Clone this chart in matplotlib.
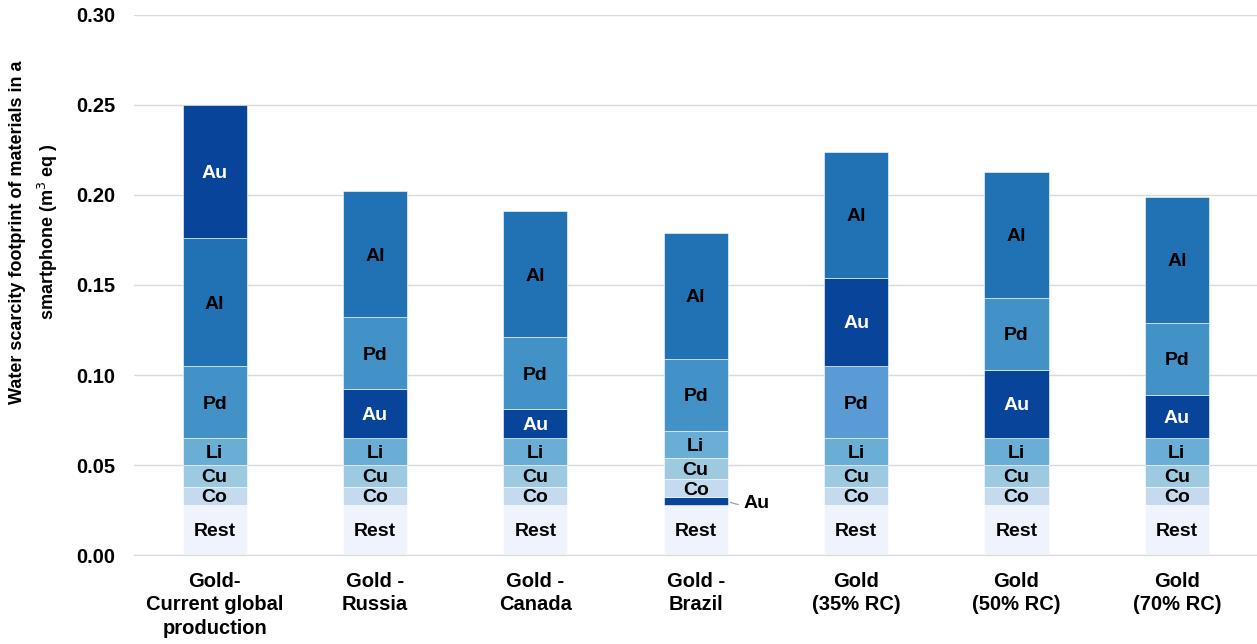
import matplotlib.pyplot as plt

plt.rcParams['font.family'] = ['Liberation Sans', 'DejaVu Sans']

# scenarios on the x axis
categories = ['Gold-\nCurrent global\nproduction', 'Gold -\nRussia', 'Gold -\nCanada',
              'Gold -\nBrazil', 'Gold\n(35% RC)', 'Gold\n(50% RC)', 'Gold\n(70% RC)']

# material contributions (m3 eq)
rest = [0.028, 0.028, 0.028, 0.028, 0.028, 0.028, 0.028]
co = [0.010, 0.010, 0.010, 0.010, 0.010, 0.010, 0.010]
cu = [0.012, 0.012, 0.012, 0.012, 0.012, 0.012, 0.012]
li = [0.015, 0.015, 0.015, 0.015, 0.015, 0.015, 0.015]
pd = [0.040, 0.040, 0.040, 0.040, 0.040, 0.040, 0.040]
al = [0.071, 0.070, 0.070, 0.070, 0.070, 0.070, 0.070]
au = [0.074, 0.027, 0.016, 0.004, 0.049, 0.038, 0.024]

# stacking order, bottom to top, for each bar
orders = [
    ['Rest', 'Co', 'Cu', 'Li', 'Pd', 'Al', 'Au'],
    ['Rest', 'Co', 'Cu', 'Li', 'Au', 'Pd', 'Al'],
    ['Rest', 'Co', 'Cu', 'Li', 'Au', 'Pd', 'Al'],
    ['Rest', 'Au', 'Co', 'Cu', 'Li', 'Pd', 'Al'],
    ['Rest', 'Co', 'Cu', 'Li', 'Pd', 'Au', 'Al'],
    ['Rest', 'Co', 'Cu', 'Li', 'Au', 'Pd', 'Al'],
    ['Rest', 'Co', 'Cu', 'Li', 'Au', 'Pd', 'Al'],
]

values = {'Rest': rest, 'Co': co, 'Cu': cu, 'Li': li, 'Pd': pd, 'Al': al, 'Au': au}
colors = {'Rest': '#eef3fc', 'Co': '#c5daef', 'Cu': '#9dcae0', 'Li': '#6aaed6',
          'Pd': '#4292c8', 'Al': '#2171b5', 'Au': '#08449a'}

fig = plt.figure(figsize=(12.57, 6.44), dpi=100)
ax = fig.add_axes([0.107, 0.138, 0.893, 0.839])

width = 0.4
for i, order in enumerate(orders):
    bottom = 0
    for name in order:
        v = values[name][i]
        c = colors[name]
        if name == 'Pd' and i == 4:
            c = '#5b9bd5'
        ax.bar(i, v, width, bottom=bottom, color=c, edgecolor='white', linewidth=0.4, zorder=3)
        mid = bottom + v / 2
        tc = 'white' if name == 'Au' else 'black'
        if v < 0.006:
            # too thin for an inner label
            ax.annotate(name, xy=(i + width / 2, mid), xytext=(i + width / 2 + 0.1, mid),
                        fontsize=14, fontweight='bold', va='center_baseline', ha='left',
                        arrowprops=dict(arrowstyle='-', color='#999999', lw=0.8,
                                        connectionstyle='arc3,rad=-0.2'))
        else:
            ax.text(i, mid, name, ha='center', va='center_baseline', fontsize=14,
                    fontweight='bold', color=tc, zorder=4)
        bottom += v

ax.set_ylim(0, 0.30)
ax.set_xlim(-0.5, 6.5)
ax.set_yticks([0, 0.05, 0.10, 0.15, 0.20, 0.25, 0.30])
ax.set_yticklabels(['0.00', '0.05', '0.10', '0.15', '0.20', '0.25', '0.30'],
                   fontsize=14.5, fontweight='bold')
ax.set_xticks(range(len(categories)))
ax.set_xticklabels(categories, fontsize=14.5, fontweight='bold', linespacing=1.3)
ax.tick_params(axis='y', length=0, pad=14)
ax.tick_params(axis='x', length=0, pad=12)
ax.grid(axis='y', color='#d9d9d9', linewidth=1, zorder=0)
for s in ['top', 'right', 'left']:
    ax.spines[s].set_visible(False)
ax.spines['bottom'].set_color('#d9d9d9')

ax.set_ylabel('Water scarcity footprint of materials in a\nsmartphone (m$^3$ eq )',
              fontsize=13, fontweight='bold', linespacing=1.55)
ax.yaxis.set_label_coords(-0.066, 0.598)

fig.savefig('out.png', dpi=100)
